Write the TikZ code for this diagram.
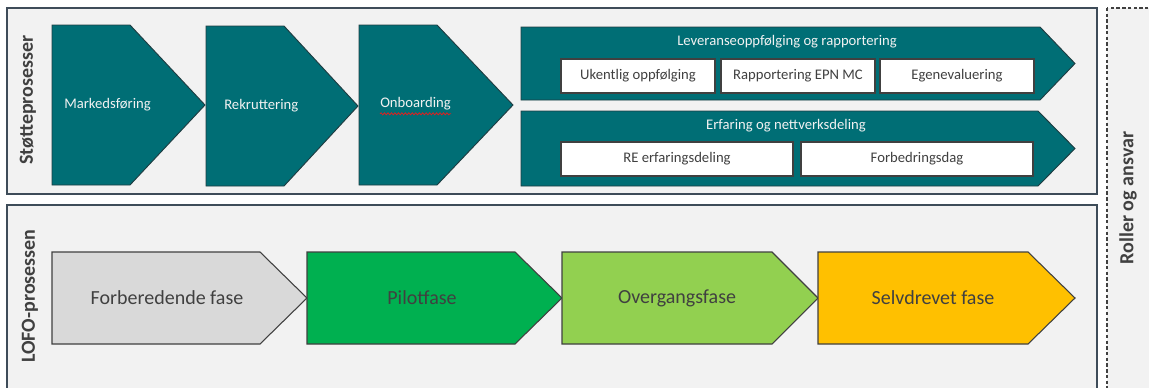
\documentclass[tikz,border=0pt]{standalone}
\usepackage{fontspec}
\setmainfont{Carlito}
\usetikzlibrary{decorations.pathmorphing}

\definecolor{panelbg}{HTML}{F2F2F2}
\definecolor{panelline}{HTML}{3E4C59}
\definecolor{tealfill}{HTML}{006E75}
\definecolor{tealline}{HTML}{1F3D42}
\definecolor{lighttext}{HTML}{F2F2F2}
\definecolor{darktext}{HTML}{404040}
\definecolor{boxline}{HTML}{404040}
\definecolor{phaseline}{HTML}{404040}
\definecolor{phasegray}{HTML}{D9D9D9}
\definecolor{phasegreen}{HTML}{00B050}
\definecolor{phaselime}{HTML}{92D050}
\definecolor{phasegold}{HTML}{FFC000}
\definecolor{spellred}{HTML}{E02020}

% pentagon arrow: style, left x, top y, shoulder x, tip x, bottom y
\newcommand\chevpath[6][]{%
  \path[#1] (#2,#3) -- (#4,#3) -- (#5,{(#3+#6)/2}) -- (#4,#6) -- (#2,#6) -- cycle;}

\begin{document}
\begin{tikzpicture}[x=0.75pt,y=-0.75pt,
  panel/.style={fill=panelbg, draw=panelline, line width=1.1pt},
  rolebox/.style={fill=panelbg, draw=darktext, line width=0.9pt, dash pattern=on 2.5pt off 1.8pt},
  chevteal/.style={fill=tealfill, draw=tealline, line width=0.7pt},
  phase/.style={draw=phaseline, line width=0.8pt},
  itembox/.style={fill=white, draw=boxline, line width=0.8pt, inner sep=0pt,
    minimum height=25.5pt, text=darktext, font=\fontsize{11}{13}\selectfont},
  sidelabel/.style={font=\fontsize{15}{18}\selectfont\bfseries, text=darktext, rotate=90, inner sep=0pt},
  steplabel/.style={font=\fontsize{11}{13}\selectfont, text=lighttext, inner sep=0pt, anchor=west},
  grouptitle/.style={font=\fontsize{11}{13}\selectfont, text=lighttext, inner sep=0pt},
  phaselabel/.style={font=\fontsize{15}{18}\selectfont, text=darktext, inner sep=0pt}
]
\useasboundingbox (0,0) rectangle (1149,387);
\fill[white] (0,0) rectangle (1149,387);
\clip (0,0) rectangle (1149,387);

% frames
\draw[panel] (7,8) rectangle (1097,194);
\draw[panel] (7,205) rectangle (1097,400);
\draw[rolebox] (1107,8) rectangle (1160,400);

\node[sidelabel] (stotte) at (28,100) {Støtteprosesser};
\node[sidelabel] (lofo) at (30,296) {LOFO-prosessen};
\node[sidelabel] (roller) at (1128,198) {Roller og ansvar};

% support processes
\chevpath[chevteal]{52}{25}{130}{205}{185}
\chevpath[chevteal]{206}{26}{284}{358}{186}
\chevpath[chevteal]{359}{25}{437}{513}{185}
\node[steplabel] (mark) at (64,105) {Markedsføring};
\node[steplabel] (rekr) at (224,106) {Rekruttering};
\node[steplabel] (onb) at (380,104) {Onboarding};
\draw[spellred, line width=0.6pt, decorate,
  decoration={snake, amplitude=0.75pt, segment length=2.6pt}]
  ([yshift=-2.4pt]onb.south west) -- ([yshift=-2.4pt]onb.south east);

\chevpath[chevteal]{521}{27}{1040}{1075}{100}
\chevpath[chevteal]{521}{111}{1038}{1075}{186}
\node[grouptitle] (lev) at (787,42) {Leveranseoppfølging og rapportering};
\node[grouptitle] (erf) at (786,126) {Erfaring og nettverksdeling};

\node[itembox, minimum width=115.5pt] (uke) at (638,76) {Ukentlig oppfølging};
\node[itembox, minimum width=115.5pt] (rapp) at (798,76) {Rapportering EPN MC};
\node[itembox, minimum width=115.5pt] (egen) at (957,76) {Egenevaluering};
\node[itembox, minimum width=174pt] (re) at (677,159) {RE erfaringsdeling};
\node[itembox, minimum width=174pt] (forb) at (917,159) {Forbedringsdag};

% LOFO phases
\chevpath[phase, fill=phasegray]{52}{252}{260}{307}{344}
\chevpath[phase, fill=phasegreen]{307}{252}{515}{562}{344}
\chevpath[phase, fill=phaselime]{562}{252}{772}{818}{344}
\chevpath[phase, fill=phasegold]{818}{252}{1028}{1075}{344}
\node[phaselabel] (forbfase) at (167,298) {Forberedende fase};
\node[phaselabel] (pilot) at (422,298) {Pilotfase};
\node[phaselabel] (overg) at (677,298) {Overgangsfase};
\node[phaselabel] (selv) at (933,298) {Selvdrevet fase};
\end{tikzpicture}
\end{document}
